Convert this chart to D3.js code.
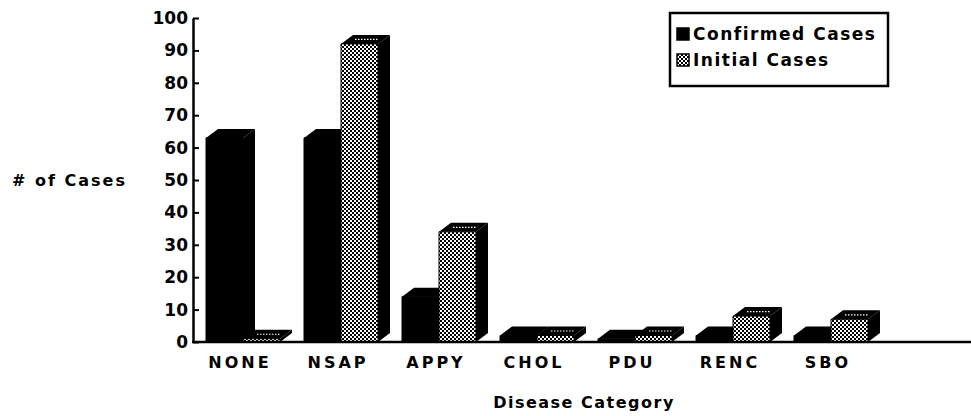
<!DOCTYPE html>
<html>
<head>
<meta charset="utf-8">
<script src="https://cdnjs.cloudflare.com/ajax/libs/d3/7.8.5/d3.min.js"></script>
<style>
  html, body { margin: 0; padding: 0; background: #fff; }
  svg text { font-family: "DejaVu Sans", sans-serif; font-weight: bold; fill: #000; }
</style>
</head>
<body>
<div id="chart"></div>
<script>
// Data
var categories = ["NONE", "NSAP", "APPY", "CHOL", "PDU", "RENC", "SBO"];
var confirmedCases = [63, 63, 14, 2, 1, 2, 2];
var initialCases = [1, 92, 34, 2, 2, 8, 7];
var seriesNames = ["Confirmed Cases", "Initial Cases"];
var yTicks = [0, 10, 20, 30, 40, 50, 60, 70, 80, 90, 100];

var width = 971,
  height = 416,
  barW = 37,   // front face width
  depthX = 12, // 3d offset
  depthY = 9;

var svg = d3.select("#chart").append("svg")
  .attr("width", width)
  .attr("height", height);

// stipple pattern for "initial" bars
var defs = svg.append("defs");
var pat = defs.append("pattern")
  .attr("id", "stipple")
  .attr("patternUnits", "userSpaceOnUse")
  .attr("width", 4)
  .attr("height", 4);
pat.append("rect").attr("width", 4).attr("height", 4).attr("fill", "#fff");
pat.append("rect").attr("x", 0).attr("y", 0).attr("width", 2).attr("height", 2).attr("fill", "#000");
pat.append("rect").attr("x", 2).attr("y", 2).attr("width", 2).attr("height", 2).attr("fill", "#000");

var yScale = d3.scaleLinear()
  .domain([0, 100])
  .range([342, 18]);

var xScale = d3.scaleBand()
  .domain(categories)
  .range([206, 206 + categories.length * 98])
  .padding(0);

// bars
var data = categories.map(function(c, i) {
  return {cat: c, values: [confirmedCases[i], initialCases[i]]};
});

function frontPath(x, v) {
  var y0 = yScale(0), y1 = yScale(v);
  return "M" + x + "," + y0 + "V" + y1 + "H" + (x + barW) + "V" + y0 + "Z";
}
function topPath(x, v) {
  var y1 = yScale(v);
  return "M" + x + "," + y1 + "L" + (x + depthX) + "," + (y1 - depthY) +
    "H" + (x + barW + depthX) + "L" + (x + barW) + "," + y1 + "Z";
}
function sidePath(x, v) {
  var y0 = yScale(0), y1 = yScale(v);
  return "M" + (x + barW) + "," + y1 + "L" + (x + barW + depthX) + "," + (y1 - depthY) +
    "V" + (y0 - depthY) + "L" + (x + barW) + "," + y0 + "Z";
}

var groups = svg.selectAll(".group")
  .data(data)
  .enter().append("g")
    .attr("class", "group");

groups.each(function(d) {
  var g = d3.select(this);
  d.values.forEach(function(v, k) {
    var x = xScale(d.cat) + k * barW;
    var bar = g.append("g").attr("class", "bar s" + k);
    bar.append("path").attr("d", sidePath(x, v)).attr("fill", "#000");
    bar.append("path").attr("d", topPath(x, v)).attr("fill", "#000");
    bar.append("path").attr("d", frontPath(x, v))
      .attr("fill", k === 0 ? "#000" : "url(#stipple)")
      .attr("stroke", "#000").attr("stroke-width", 1);
    if (k === 1) {
      // light speckle on the top face
      var yt = yScale(v) - depthY / 2;
      bar.append("line")
        .attr("x1", x + depthX / 2 + 8).attr("x2", x + barW + depthX / 2 - 6)
        .attr("y1", yt).attr("y2", yt)
        .attr("stroke", "#fff").attr("stroke-width", 1.2)
        .attr("stroke-dasharray", "1.5,1.5");
    }
  });
});

// y axis
var yAxis = svg.append("g")
  .attr("class", "axis y")
  .attr("transform", "translate(193,0)")
  .call(d3.axisLeft(yScale).tickValues(yTicks).tickSizeInner(-6).tickSizeOuter(0).tickPadding(5));
yAxis.select(".domain").attr("stroke", "#000").attr("stroke-width", 2.5);
yAxis.selectAll(".tick line").attr("stroke", "#000").attr("stroke-width", 2);
yAxis.selectAll(".tick text")
  .style("font-size", "17px")
  .style("font-family", "'DejaVu Sans', sans-serif")
  .style("font-weight", "bold")
  .attr("fill", "#000");

// x baseline
svg.append("line")
  .attr("x1", 192).attr("x2", width)
  .attr("y1", yScale(0)).attr("y2", yScale(0))
  .attr("stroke", "#000").attr("stroke-width", 2.5);

// category labels
svg.selectAll(".catLabel")
  .data(categories)
  .enter().append("text")
    .attr("class", "catLabel")
    .attr("x", function(d) { return xScale(d) + 34; })
    .attr("y", 368)
    .attr("text-anchor", "middle")
    .style("font-size", "16px")
    .style("letter-spacing", "3px")
    .text(function(d) { return d; });

// axis titles
svg.append("text")
  .attr("x", 12).attr("y", 186)
  .style("font-size", "16px")
  .style("letter-spacing", "2px")
  .text("# of Cases");

svg.append("text")
  .attr("x", 584).attr("y", 408)
  .attr("text-anchor", "middle")
  .style("font-size", "16px")
  .style("letter-spacing", "1.5px")
  .text("Disease Category");

// legend
var legend = svg.append("g").attr("class", "legend");
legend.append("rect")
  .attr("x", 670).attr("y", 13)
  .attr("width", 218).attr("height", 73)
  .attr("fill", "#fff").attr("stroke", "#000").attr("stroke-width", 2.5);

var items = legend.selectAll(".item")
  .data(seriesNames)
  .enter().append("g")
    .attr("class", "item")
    .attr("transform", function(d, i) { return "translate(677," + (40 + i * 26) + ")"; });

items.append("rect")
  .attr("y", -12)
  .attr("width", 12).attr("height", 12)
  .attr("fill", function(d, i) { return i === 0 ? "#000" : "url(#stipple)"; })
  .attr("stroke", "#000").attr("stroke-width", 1.5);

items.append("text")
  .attr("x", 16).attr("y", 0)
  .style("font-size", "17px")
  .style("letter-spacing", "1.5px")
  .text(function(d) { return d; });
</script>
</body>
</html>
